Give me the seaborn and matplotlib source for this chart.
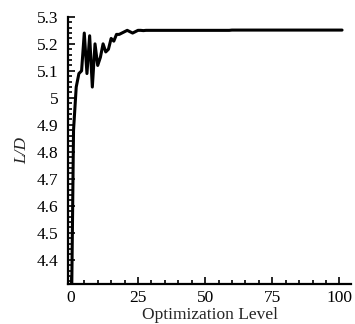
import numpy as np
import pandas as pd
import seaborn as sns
import matplotlib
matplotlib.use("Agg")
import matplotlib.pyplot as plt
from matplotlib.ticker import MultipleLocator

# optimization level vs lift-to-drag ratio
level = list(range(0, 102))
ld = [4.00, 4.88, 5.04, 5.09, 5.10, 5.24, 5.09, 5.23, 5.04, 5.20,
      5.12, 5.15, 5.20, 5.17, 5.18, 5.22, 5.21, 5.235, 5.235, 5.24,
      5.245, 5.25, 5.245, 5.24, 5.245, 5.25, 5.25, 5.249, 5.25, 5.25,
      5.25, 5.25, 5.25, 5.25, 5.25, 5.25, 5.25, 5.25, 5.25, 5.25,
      5.25, 5.25, 5.25, 5.25, 5.25, 5.25, 5.25, 5.25, 5.25, 5.25,
      5.25, 5.25, 5.25, 5.25, 5.25, 5.25, 5.25, 5.25, 5.25, 5.25,
      5.251, 5.251, 5.251, 5.251, 5.251, 5.251, 5.251, 5.251, 5.251, 5.251,
      5.251, 5.251, 5.251, 5.251, 5.251, 5.251, 5.251, 5.251, 5.251, 5.251,
      5.251, 5.251, 5.251, 5.251, 5.251, 5.251, 5.251, 5.251, 5.251, 5.251,
      5.251, 5.251, 5.251, 5.251, 5.251, 5.251, 5.251, 5.251, 5.251, 5.251,
      5.251, 5.251]
yticks = [4.4, 4.5, 4.6, 4.7, 4.8, 4.9, 5.0, 5.1, 5.2, 5.3]
ytick_labels = ["4.4", "4.5", "4.6", "4.7", "4.8", "4.9", "5", "5.1", "5.2", "5.3"]
xticks = [0, 25, 50, 75, 100]

df = pd.DataFrame({"level": level, "ld": ld})

sns.set_style("ticks")
plt.rcParams['font.family'] = ['Liberation Serif', 'DejaVu Serif']

fig = plt.figure(figsize=(3.55, 3.24), dpi=100)
ax = fig.add_axes([0.192, 0.123, 0.798, 0.825])
sns.lineplot(data=df, x="level", y="ld", color="black", linewidth=2.2, ax=ax)

ax.set_xlim(-1, 104.5)
ax.set_ylim(4.31, 5.3)
ax.set_xticks(xticks)
ax.set_yticks(yticks)
ax.set_yticklabels(ytick_labels)
ax.xaxis.set_minor_locator(MultipleLocator(5))
ax.yaxis.set_minor_locator(MultipleLocator(0.02))
ax.tick_params(which="both", direction="in", width=1.2, labelsize=12.5, colors="black")
ax.tick_params(which="major", length=5)
ax.tick_params(which="minor", length=3)
ax.tick_params(axis="y", pad=7)
ax.tick_params(axis="x", pad=4)
sns.despine(ax=ax)
for s in ["left", "bottom"]:
    ax.spines[s].set_linewidth(1.6)
    ax.spines[s].set_color("black")

ax.set_xlabel("Optimization Level", fontsize=12.5, labelpad=1)
ax.set_ylabel("L/D", fontsize=12.5, style="italic", labelpad=5)

fig.savefig("out.png", dpi=100)
